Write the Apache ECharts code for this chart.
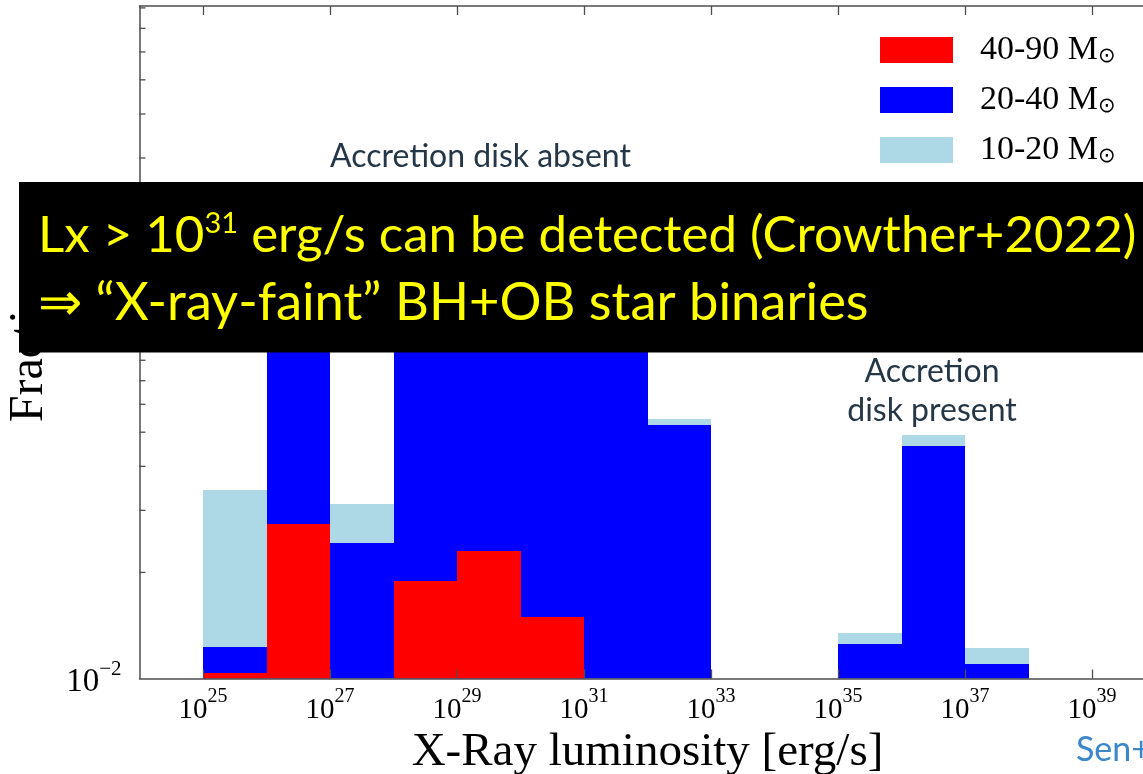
<!DOCTYPE html>
<html>
<head>
<meta charset="utf-8">
<script src="https://cdn.jsdelivr.net/npm/echarts@6/dist/echarts.min.js"></script>
<style>
  html, body { margin: 0; padding: 0; background: #ffffff; }
  #chart { width: 1143px; height: 774px; }
</style>
</head>
<body>
<div id="chart"></div>
<script>
// Histogram bins: left edge of each one-decade bin, in log10(Lx / erg s^-1)
const binStarts = [25, 26, 27, 28, 29, 30, 31, 32, 33, 34, 35, 36, 37];

// Stacked histogram levels (fraction of systems), top of each coloured layer
const red4090   = [0.01035, 0.0274, null, 0.0189, 0.0230, 0.0149, null, null, null, null, null, null, null];
const blue2040  = [0.0123, 0.170, 0.0243, 0.150, 0.200, 0.210, 0.160, 0.0524, null, null, 0.01253, 0.0457, 0.0110];
const light1020 = [0.0343, 0.175, 0.0313, 0.155, 0.205, 0.215, 0.165, 0.0545, null, null, 0.01343, 0.0491, 0.01223];

// Series labels (mass ranges of the BH progenitors)
const seriesNames = ['40-90', '20-40', '10-20'];

// Axis ranges and tick values
const xMin = 24, xMax = 40;
const xTickExps = [25, 27, 29, 31, 33, 35, 37, 39];
const yMin = 0.01, yMax = 0.81;
const yMinorTicks = [0.02, 0.03, 0.04, 0.05, 0.06, 0.07, 0.08, 0.09,
                     0.2, 0.3, 0.4, 0.5, 0.6, 0.7, 0.8];

const COLORS = { red: '#ff0000', blue: '#0000ff', light: '#add8e6' };
const AXIS_COLOR = '#4d4d4d';
const SERIF = '"Liberation Serif", "DejaVu Serif", serif';
const SANS = 'Lato, "Open Sans", sans-serif';

function toPairs(values) {
  const out = [];
  binStarts.forEach((b, i) => { if (values[i] != null) out.push([b, values[i]]); });
  return out;
}

// Each histogram bin is a rectangle from the axis floor to its level, one decade wide
function renderBin(params, api) {
  const x0 = api.value(0);
  const v = api.value(1);
  const topLeft = api.coord([x0, v]);
  const bottomRight = api.coord([x0 + 1, yMin]);
  const left = Math.round(topLeft[0]);
  const right = Math.round(bottomRight[0]);
  const top = Math.round(topLeft[1]);
  return {
    type: 'rect',
    shape: { x: left, y: top, width: right - left, height: bottomRight[1] - top },
    style: { fill: api.visual('color') }
  };
}

// Inward minor ticks on the logarithmic y axis (2..9 x 10^n)
function renderMinorTick(params, api) {
  const p = api.coord([xMin, api.value(0)]);
  return {
    type: 'line',
    shape: { x1: p[0], y1: p[1], x2: p[0] + 6, y2: p[1] },
    style: { stroke: AXIS_COLOR, lineWidth: 1.3 }
  };
}

function powerRich(base, sup, lh) {
  return {
    b: { fontFamily: SERIF, fontSize: base, color: '#000', lineHeight: lh, verticalAlign: 'bottom' },
    s: { fontFamily: SERIF, fontSize: sup, color: '#000', lineHeight: sup, verticalAlign: 'top' }
  };
}

const chart = echarts.init(document.getElementById('chart'), null, { renderer: 'canvas' });

const option = {
  animation: false,
  backgroundColor: '#ffffff',
  grid: {
    left: 139.5, top: 6, width: 1016, height: 672.5,
    containLabel: false, outerBoundsMode: 'none'
  },
  legend: {
    data: seriesNames,
    orient: 'vertical',
    left: 880,
    top: 33,
    padding: 0,
    icon: 'rect',
    itemWidth: 73,
    itemHeight: 26,
    itemGap: 16,
    selectedMode: false,
    formatter: name => '{m|' + name + ' M}{o|\u2299}',
    textStyle: {
      padding: [0, 0, 0, 22],
      rich: {
        m: { fontFamily: SERIF, fontSize: 34, color: '#000', lineHeight: 34, verticalAlign: 'top' },
        o: { fontFamily: 'DejaVu Sans, sans-serif', fontSize: 21, color: '#000', lineHeight: 20, verticalAlign: 'bottom' }
      }
    }
  },
  xAxis: [
    {
      type: 'value',
      position: 'bottom',
      min: xMin,
      max: xMax,
      z: 10,
      splitLine: { show: false },
      axisLine: { show: true, onZero: false, lineStyle: { color: AXIS_COLOR, width: 1.5 } },
      axisTick: { show: true, inside: true, length: 9, customValues: xTickExps,
                  lineStyle: { color: AXIS_COLOR, width: 1.3 } },
      axisLabel: {
        customValues: xTickExps,
        margin: 8,
        formatter: v => '{b|10}{s|' + v + '}',
        rich: powerRich(29, 20, 38)
      },
      name: 'X-Ray luminosity [erg/s]',
      nameLocation: 'middle',
      nameGap: 40,
      nameTextStyle: { fontFamily: SERIF, fontSize: 47, color: '#000' }
    },
    {
      type: 'value',
      position: 'top',
      min: xMin,
      max: xMax,
      z: 10,
      splitLine: { show: false },
      axisLine: { show: true, onZero: false, lineStyle: { color: AXIS_COLOR, width: 1.5 } },
      axisTick: { show: true, inside: true, length: 9, customValues: xTickExps,
                  lineStyle: { color: AXIS_COLOR, width: 1.3 } },
      axisLabel: { show: false }
    }
  ],
  yAxis: {
    type: 'log',
    logBase: 10,
    min: yMin,
    max: yMax,
    z: 10,
    splitLine: { show: false },
    axisLine: { show: true, onZero: false, lineStyle: { color: AXIS_COLOR, width: 1.5 } },
    axisTick: { show: false },
    axisLabel: {
      margin: 18,
      formatter: v => {
        const e = Math.log10(v);
        if (Math.abs(e - Math.round(e)) > 1e-6) return '';
        return '{b|10}{s|\u2212' + Math.abs(Math.round(e)) + '}';
      },
      rich: powerRich(33, 21, 40)
    },
    name: 'Fraction',
    nameLocation: 'middle',
    nameGap: 86,
    nameTextStyle: { fontFamily: SERIF, fontSize: 48, color: '#000' }
  },
  series: [
    {
      name: seriesNames[2], type: 'custom', renderItem: renderBin,
      itemStyle: { color: COLORS.light }, data: toPairs(light1020), z: 2
    },
    {
      name: seriesNames[1], type: 'custom', renderItem: renderBin,
      itemStyle: { color: COLORS.blue }, data: toPairs(blue2040), z: 3
    },
    {
      name: seriesNames[0], type: 'custom', renderItem: renderBin,
      itemStyle: { color: COLORS.red }, data: toPairs(red4090), z: 4
    },
    {
      name: 'yMinorTicks', type: 'custom', renderItem: renderMinorTick,
      data: yMinorTicks.map(v => [v]), encode: { y: 0 }, z: 11, silent: true
    }
  ],
  graphic: [
    {
      type: 'text', x: 480.5, y: 157, z: 20,
      style: { text: 'Accretion disk absent', fill: '#253746', font: '32px ' + SANS,
               align: 'center', verticalAlign: 'middle' }
    },
    {
      type: 'text', x: 932, y: 391, z: 20,
      style: { text: 'Accretion\ndisk present', fill: '#253746', font: '32px ' + SANS,
               align: 'center', verticalAlign: 'middle', lineHeight: 38.5 }
    },
    {
      type: 'text', x: 1076, y: 750, z: 20,
      style: { text: 'Sen+2021', fill: '#3b87c9', font: '34px ' + SANS,
               align: 'left', verticalAlign: 'middle' }
    },
    {
      type: 'rect', z: 30,
      shape: { x: 19, y: 182, width: 1140, height: 170.5 },
      style: { fill: '#000000' }
    },
    {
      type: 'text', x: 38, y: 236, z: 31,
      style: {
        text: '{a|Lx > 10}{s|31}{a| erg/s can be detected (Crowther+2022)}',
        verticalAlign: 'middle', align: 'left',
        rich: {
          a: { fontFamily: SANS, fontSize: 51, fill: '#ffff00', color: '#ffff00', lineHeight: 54 },
          s: { fontFamily: SANS, fontSize: 29, fill: '#ffff00', color: '#ffff00', lineHeight: 29, verticalAlign: 'top' }
        }
      }
    },
    {
      type: 'text', x: 38, y: 303, z: 31,
      style: {
        text: '\u21d2 \u201cX-ray-faint\u201d BH+OB star binaries',
        fill: '#ffff00', font: '52.5px ' + SANS,
        align: 'left', verticalAlign: 'middle'
      }
    }
  ]
};

chart.setOption(option);
</script>
</body>
</html>
